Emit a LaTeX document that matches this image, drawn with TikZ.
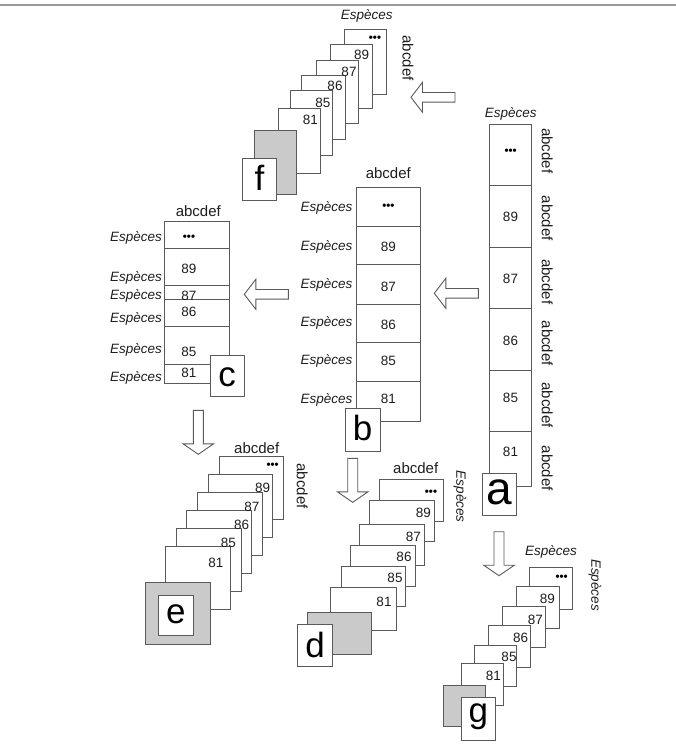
\documentclass[tikz,border=0pt]{standalone}
\usepackage{fontspec}
\setmainfont{Liberation Sans}
\definecolor{lc}{HTML}{5A5A5A}
\definecolor{gfill}{HTML}{CACACA}
\definecolor{tc}{HTML}{1E1E1E}
\newcommand\cellr[4]{\draw[cell] (#1,#2) rectangle (#3,#4);}
\newcommand\grayr[4]{\draw[cell,fill=gfill] (#1,#2) rectangle (#3,#4);}
\tikzset{
  cell/.style={draw=lc,fill=white,line width=0.9pt},
  num/.style={text=tc,inner sep=0pt,font=\fontsize{13.5}{14}\selectfont},
  dotsl/.style={text=black,inner sep=0pt,font=\fontsize{11.5}{12}\selectfont\bfseries},
  hdr/.style={text=tc,inner sep=0pt,font=\fontsize{15}{16}\selectfont},
  esp/.style={text=tc,inner sep=0pt,font=\fontsize{13.5}{14}\selectfont\itshape},
  big/.style={text=black,inner sep=0pt,font=\fontsize{35}{36}\selectfont},
  arrowst/.style={draw=lc,fill=white,line width=0.9pt,line join=miter},
  larrow/.pic={\draw[arrowst] (0,0) -- (11.5,-15) -- (11.5,-4.8) -- (44,-4.8) -- (44,4.8) -- (11.5,4.8) -- (11.5,15) -- cycle;},
  darrow/.pic={\draw[arrowst] (0,0) -- (-15.3,-10.5) -- (-5,-10.5) -- (-5,-44) -- (5,-44) -- (5,-10.5) -- (15.3,-10.5) -- cycle;}
}
\begin{document}
\begin{tikzpicture}[x=1pt,y=-1pt]
\useasboundingbox[fill=white] (0,0) rectangle (676,748);
\coordinate (tl) at (0,5);
\coordinate (tr) at (676,5);
\draw[black!40,line width=2pt] (tl) -- (tr);

% ---------- panel a ----------
\draw[cell] (489.3,124) rectangle (531.7,486.3);
\foreach \yy in {185.7,247,308.7,370,431.3} \draw[lc,line width=0.9pt] (489.3,\yy) -- (531.7,\yy);
\draw[cell] (482.3,473.3) rectangle (516,515);
\node[big,font=\fontsize{46}{48}\selectfont] (la) at (499.2,492) {a};
\node[esp] (ea) at (510.7,114) {Espèces};
\node[dotsl] (a0) at (510.7,151.7) {•••};
\node[num] (a1) at (510.5,217.3) {89};
\node[num] (a2) at (510.5,279) {87};
\node[num] (a3) at (510.5,340.7) {86};
\node[num] (a4) at (510.5,398.3) {85};
\node[num] (a5) at (510.5,451.7) {81};
\foreach \yy/\nm in {150.7/r0,218.3/r1,281.7/r2,343.3/r3,405/r4,468.3/r5}
  \node[hdr,rotate=-90] (a\nm) at (547.3,\yy) {abcdef};

% ---------- panel b ----------
\draw[cell] (356,187.3) rectangle (420,421.7);
\foreach \yy in {226,264.3,304,342.7,381.7} \draw[lc,line width=0.9pt] (356,\yy) -- (420,\yy);
\draw[cell] (345,408.3) rectangle (380,451);
\node[big] (lb) at (362.5,428) {b};
\node[hdr] (hb) at (388.3,173.3) {abcdef};
\node[dotsl] (b0) at (388.3,206.7) {•••};
\node[num] (b1) at (388.3,247.3) {89};
\node[num] (b2) at (388.3,287.3) {87};
\node[num] (b3) at (388.3,325.3) {86};
\node[num] (b4) at (388.3,361) {85};
\node[num] (b5) at (388.3,398.7) {81};
\foreach \yy/\nm in {208.3/0,247.3/1,285/2,322.7/3,361/4,400/5}
  \node[esp,anchor=east] (eb\nm) at (352.5,\yy) {Espèces};

% ---------- panel c ----------
\draw[cell] (164.3,221.7) rectangle (229,383.3);
\foreach \yy in {248.3,285.7,299.3,326.7,364.3} \draw[lc,line width=0.9pt] (164.3,\yy) -- (229,\yy);
\draw[cell] (210,355) rectangle (244,396.7);
\node[big] (lc) at (227,377) {c};
\node[hdr] (hc) at (198.3,211) {abcdef};
\node[dotsl] (c0) at (189,237.3) {•••};
\node[num] (c1) at (189,269) {89};
\node[num] (c2) at (189,296) {87};
\node[num] (c3) at (189,312.3) {86};
\node[num] (c4) at (189,352.3) {85};
\node[num] (c5) at (189,373.3) {81};
\foreach \yy/\nm in {238.3/0,278.3/1,296/2,319/3,350/4,377.7/5}
  \node[esp,anchor=east] (ec\nm) at (162,\yy) {Espèces};

% ---------- panel f ----------
\cellr{344.3}{29.3}{386}{94.3}
\cellr{330.7}{44.3}{372.7}{108.3}
\cellr{316}{60}{358.7}{123.3}
\cellr{301.7}{75}{345}{139.3}
\cellr{290.3}{90.7}{332.3}{155}
\cellr{278.3}{108.7}{320.7}{173.3}
\grayr{254.3}{130}{296}{194}
\cellr{242.3}{158.3}{276.7}{200.7}
\node[big] (lf) at (259.5,178) {f};
\node[esp] (ef) at (366.7,16) {Espèces};
\node[hdr,rotate=-90] (hf) at (408,58) {abcdef};
\node[dotsl] (f0) at (375,39) {•••};
\node[num] (f1) at (361.7,55) {89};
\node[num] (f2) at (349,71.7) {87};
\node[num] (f3) at (335,85.7) {86};
\node[num] (f4) at (323,103.3) {85};
\node[num] (f5) at (310.3,120) {81};

% ---------- panel e ----------
\cellr{219}{456.7}{283.3}{519.3}
\cellr{208.3}{474.7}{272.7}{537.3}
\cellr{197.3}{492.7}{262.3}{555.3}
\cellr{186.7}{510.7}{251.7}{573.3}
\cellr{176.3}{528.7}{241}{591.7}
\cellr{165.7}{546.3}{230.3}{609}
\grayr{145}{582.3}{210}{644.3}
\cellr{158.3}{595}{193.3}{635.7}
\node[big] (le) at (175.8,614) {e};
\node[hdr] (he) at (256.7,448.3) {abcdef};
\node[hdr,rotate=-90] (he2) at (302.3,486) {abcdef};
\node[dotsl] (e0) at (272.7,466) {•••};
\node[num] (e1) at (262.7,488.3) {89};
\node[num] (e2) at (252,507.3) {87};
\node[num] (e3) at (241.7,525) {86};
\node[num] (e4) at (228.3,543.3) {85};
\node[num] (e5) at (216,563.3) {81};

% ---------- panel d ----------
\cellr{379}{479.3}{443.3}{521}
\cellr{369.3}{500}{434.3}{541.7}
\cellr{359.3}{524}{424}{565.7}
\cellr{350}{545}{415}{586.7}
\cellr{341}{566}{405.7}{606.7}
\cellr{330.7}{587.7}{396}{630}
\grayr{307.3}{612.3}{371}{654}
\cellr{297.3}{624}{332.7}{666.7}
\node[big] (ld) at (315,645) {d};
\node[hdr] (hd) at (415.7,468.3) {abcdef};
\node[esp,rotate=-90] (ed) at (460,496.7) {Espèces};
\node[dotsl] (d0) at (431,492.7) {•••};
\node[num] (d1) at (423.3,513.3) {89};
\node[num] (d2) at (413.3,537.3) {87};
\node[num] (d3) at (404,557.3) {86};
\node[num] (d4) at (395,578.3) {85};
\node[num] (d5) at (384,601.7) {81};

% ---------- panel g ----------
\cellr{529.3}{567.3}{572.7}{609.3}
\cellr{516.7}{586.7}{559}{628.3}
\cellr{502.7}{606}{545}{647.7}
\cellr{488.3}{625.7}{530}{667.3}
\cellr{474.3}{645}{516.7}{686.7}
\cellr{461}{663.3}{503.3}{705.7}
\grayr{443.3}{685.7}{485}{726}
\cellr{461}{697.3}{495.7}{740}
\node[big] (lg) at (478.3,717) {g};
\node[esp] (eg) at (551,552.3) {Espèces};
\node[esp,rotate=-90] (eg2) at (595,585) {Espèces};
\node[dotsl] (g0) at (561.7,577.7) {•••};
\node[num] (g1) at (547.3,599) {89};
\node[num] (g2) at (535.3,620) {87};
\node[num] (g3) at (520.7,638.3) {86};
\node[num] (g4) at (509,657.3) {85};
\node[num] (g5) at (493.3,675.7) {81};

% ---------- block arrows ----------
\pic at (411,97.3) {larrow};
\pic at (434.3,293.3) {larrow};
\pic at (244.3,294.3) {larrow};
\pic at (198.3,454.3) {darrow};
\pic at (352.7,502.3) {darrow};
\pic at (499,575.7) {darrow};
\end{tikzpicture}
\end{document}
